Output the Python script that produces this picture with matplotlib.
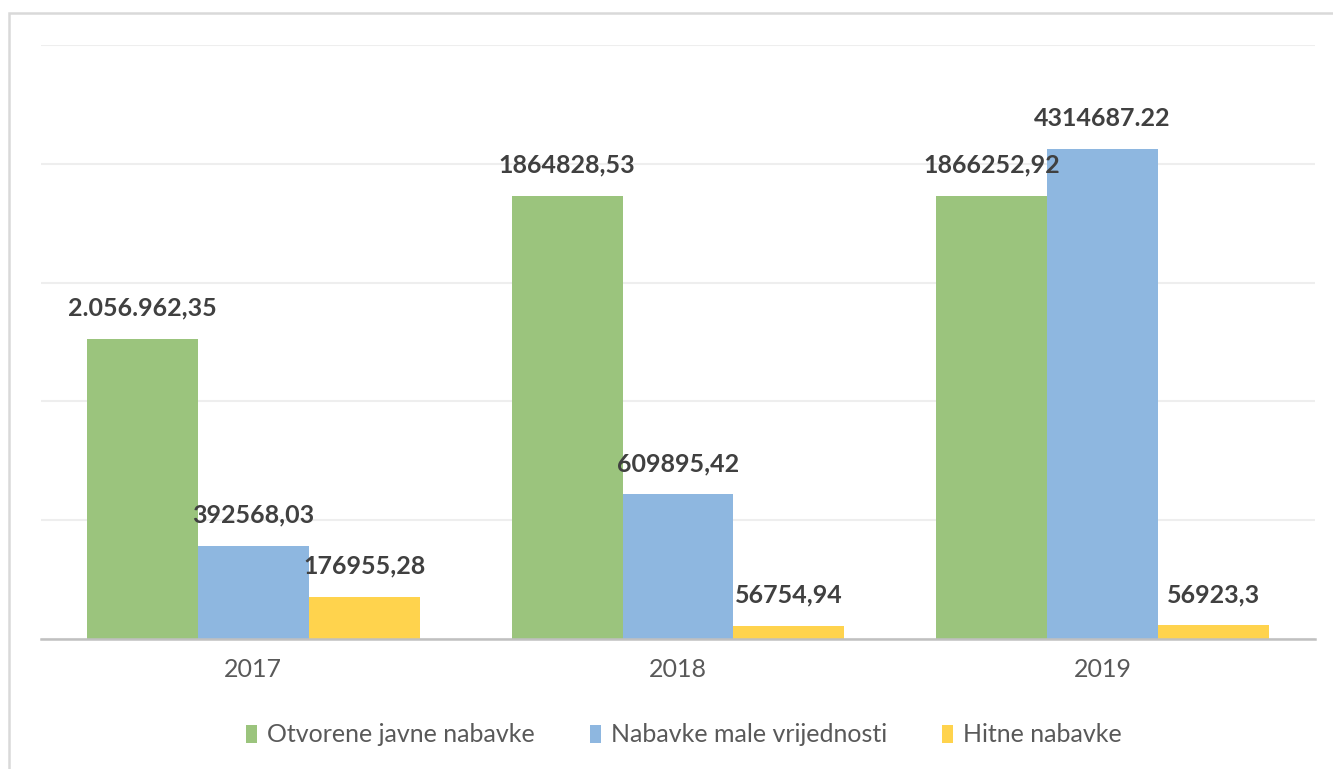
import matplotlib
matplotlib.use("Agg")
from matplotlib import pyplot as plt
import matplotlib.patches as mpatches
import numpy as np

years = ["2017", "2018", "2019"]
seriesNames = ["Otvorene javne nabavke", "Nabavke male vrijednosti", "Hitne nabavke"]

# bar heights as drawn in the picture (the labels are the source's own text)
otvorene = [1263000, 1864828.53, 1866252.92]
maleVrijednosti = [392568.03, 609895.42, 2062000]
hitne = [176955.28, 56754.94, 56923.3]

otvoreneLabels = ["2.056.962,35", "1864828,53", "1866252,92"]
maleLabels = ["392568,03", "609895,42", "4314687.22"]
hitneLabels = ["176955,28", "56754,94", "56923,3"]

colors = ["#9BC47D", "#8EB7E0", "#FFD34D"]

fig = plt.figure(figsize=(13.33, 7.69), dpi=100)
fig.patches.append(mpatches.Rectangle((9/1333, -0.1), 1.2, (769-13)/769 + 0.1,
                                      transform=fig.transFigure, fill=False,
                                      edgecolor="#d9d9d9", linewidth=1.8))

ax = fig.add_axes([41/1333, 130/769, 1274/1333, 594/769])

x = np.arange(len(years))
width = 0.261
allValues = [otvorene, maleVrijednosti, hitne]
allLabels = [otvoreneLabels, maleLabels, hitneLabels]

for i in range(3):      # one series at a time
    pos = x + (i - 1) * width
    ax.bar(pos, allValues[i], width, color=colors[i], label=seriesNames[i], zorder=2)
    for p, v, t in zip(pos, allValues[i], allLabels[i]):
        ax.annotate(t, (p, v), xytext=(0, 22), textcoords="offset points",
                    ha="center", va="center", fontsize=18, fontweight="bold",
                    family="Lato", color="#404040", zorder=3)

ax.set_xlim(-0.5, 2.5)
ax.set_ylim(0, 2500000)
ax.set_yticks(np.arange(0, 2500001, 500000))
ax.yaxis.grid(True, color="#eeeeee", linewidth=1.5, zorder=0)
ax.tick_params(axis="y", left=False, labelleft=False)
ax.set_xticks(x)
ax.set_xticklabels(years, fontsize=18, family="Lato", color="#595959")
ax.tick_params(axis="x", length=0, pad=14)
for s in ["top", "right", "left"]:
    ax.spines[s].set_visible(False)
ax.spines["bottom"].set_color("#c0c0c0")
ax.spines["bottom"].set_linewidth(1.8)

leg = fig.legend(loc="center", bbox_to_anchor=(684/1333, 1 - 735/769), ncol=3, frameon=False,
                 handlelength=0.45, handleheight=0.7, handletextpad=0.4, columnspacing=2.2,
                 prop={"family": "Lato", "size": 18})
for txt in leg.get_texts():
    txt.set_color("#595959")

fig.savefig("out.png", dpi=100)
